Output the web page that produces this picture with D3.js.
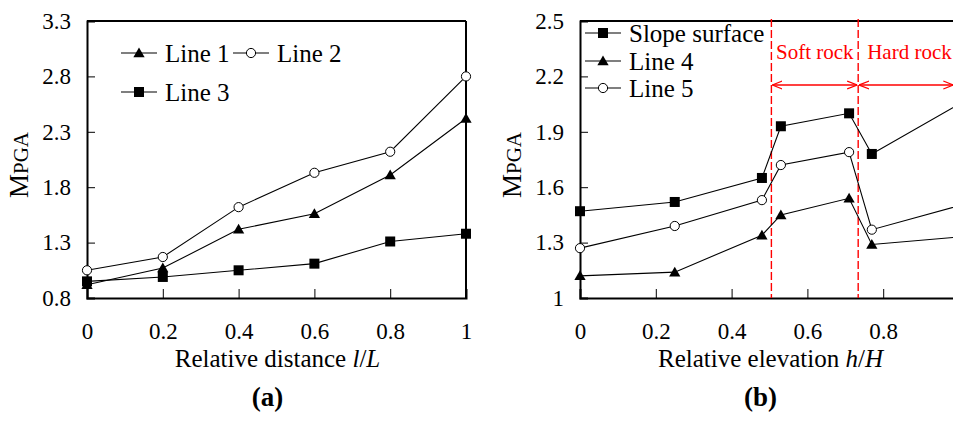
<!DOCTYPE html>
<html>
<head>
<meta charset="utf-8">
<script src="https://cdn.jsdelivr.net/npm/d3@7"></script>
<style>
  html, body { margin: 0; padding: 0; background: #fff; overflow: hidden; }
  svg { display: block; font-family: "Liberation Serif", "Times New Roman", serif; }
</style>
</head>
<body>
<svg id="chart" width="953" height="422"></svg>
<script>
// ---- data ----
const distX = [0, 0.2, 0.4, 0.6, 0.8, 1];
const line1 = [0.92, 1.07, 1.42, 1.56, 1.91, 2.42];
const line2 = [1.05, 1.17, 1.62, 1.93, 2.12, 2.80];
const line3 = [0.95, 0.99, 1.05, 1.11, 1.31, 1.38];

const elevX = [0, 0.25, 0.48, 0.53, 0.71, 0.77, 1];
const slopeSurface = [1.47, 1.52, 1.65, 1.93, 2.00, 1.78, 2.05];
const line4 = [1.12, 1.14, 1.34, 1.45, 1.54, 1.29, 1.33];
const line5 = [1.27, 1.39, 1.53, 1.72, 1.79, 1.37, 1.50];

const xTicksA = [0, 0.2, 0.4, 0.6, 0.8, 1];
const xTicksB = [0, 0.2, 0.4, 0.6, 0.8];   // the 1 falls past the picture edge
const yTicksA = [0.8, 1.3, 1.8, 2.3, 2.8, 3.3];
const yTicksB = [1, 1.3, 1.6, 1.9, 2.2, 2.5];
const rockBounds = [0.505, 0.734]; // soft rock zone, hard rock beyond

const svg = d3.select("#chart");
const FS = 23;

// arrowheads for the rock zone brackets
const defs = svg.append("defs");
["start", "end"].forEach((k) => {
  defs.append("marker")
    .attr("id", "arr-" + k)
    .attr("viewBox", "0 0 10 10")
    .attr("refX", k === "end" ? 10 : 0).attr("refY", 5)
    .attr("markerWidth", 10).attr("markerHeight", 10)
    .attr("markerUnits", "userSpaceOnUse")
    .attr("orient", "auto")
    .append("path")
    .attr("d", k === "end" ? "M0,1 L10,5 L0,9" : "M10,1 L0,5 L10,9")
    .attr("fill", "none").attr("stroke", "red").attr("stroke-width", 1.3);
});

function marker(g, shape, x, y) {
  if (shape === "circle") {
    g.append("circle").attr("cx", x).attr("cy", y).attr("r", 4.6)
      .attr("fill", "#fff").attr("stroke", "#000").attr("stroke-width", 1);
  } else if (shape === "square") {
    g.append("rect").attr("x", x - 5).attr("y", y - 5).attr("width", 10).attr("height", 10)
      .attr("fill", "#000");
  } else {
    g.append("path").attr("d", d3.symbol(d3.symbolTriangle, 55)())
      .attr("transform", `translate(${x},${y + 1})`).attr("fill", "#000");
  }
}

function panel(opt) {
  const x = d3.scaleLinear().domain([0, 1]).range([opt.left, opt.left + 379]);
  const y = d3.scaleLinear().domain(opt.yDomain).range([298, 21]);
  const g = svg.append("g");

  // frame
  g.append("line").attr("x1", x(0)).attr("x2", x(1)).attr("y1", 21).attr("y2", 21)
    .attr("stroke", "#000").attr("stroke-width", 2);
  g.append("line").attr("x1", x(1)).attr("x2", x(1)).attr("y1", 21).attr("y2", 298)
    .attr("stroke", "#000").attr("stroke-width", 2);

  const xa = g.append("g").attr("transform", "translate(0,298)")
    .call(d3.axisBottom(x).tickValues(opt.xTicks).tickSize(-9).tickPadding(25)
      .tickFormat((d) => String(d)));
  const ya = g.append("g").attr("transform", `translate(${opt.left},0)`)
    .call(d3.axisLeft(y).tickValues(opt.yTicks).tickSize(-8).tickPadding(16)
      .tickFormat((d) => String(d)));
  [xa, ya].forEach((a) => {
    a.select(".domain").attr("stroke-width", 2);
    a.selectAll(".tick line").attr("stroke-width", 1);
    a.selectAll("text").attr("font-size", FS).attr("font-family", "Liberation Serif").attr("fill", "#000");
  });

  // y title
  const yt = g.append("text")
    .attr("transform", `translate(${opt.left - 59},165) rotate(-90)`)
    .attr("text-anchor", "middle").attr("fill", "#000");
  yt.append("tspan").attr("font-size", 27).text("M");
  yt.append("tspan").attr("font-size", 21).text("PGA");

  // x title
  const xt = g.append("text").attr("x", x(0.5) + 1).attr("y", 367)
    .attr("text-anchor", "middle").attr("font-size", 25).attr("fill", "#000");
  xt.append("tspan").text(opt.xTitle);
  xt.append("tspan").attr("font-style", "italic").text(opt.xVar[0]);
  xt.append("tspan").text("/");
  xt.append("tspan").attr("font-style", "italic").text(opt.xVar[1]);

  g.append("text").attr("x", x(0.5) - 9).attr("y", 406).attr("text-anchor", "middle")
    .attr("font-size", 27).attr("font-weight", "bold").attr("fill", "#000").text(opt.tag);

  return { g, x, y };
}

function series(p, xs, ys, shape) {
  const line = d3.line().x((d, i) => p.x(xs[i])).y((d) => p.y(d));
  p.g.append("path").datum(ys).attr("d", line)
    .attr("fill", "none").attr("stroke", "#000").attr("stroke-width", 1.1);
  ys.forEach((v, i) => marker(p.g, shape, p.x(xs[i]), p.y(v)));
}

function legendItem(g, shape, x, y, label) {
  g.append("line").attr("x1", x).attr("x2", x + 36).attr("y1", y).attr("y2", y)
    .attr("stroke", "#000").attr("stroke-width", 1.1);
  marker(g, shape, x + 18, y);
  g.append("text").attr("x", x + 44).attr("y", y).attr("dy", "0.35em")
    .attr("font-size", 25).attr("fill", "#000").text(label);
}

// ---- panel (a) ----
const A = panel({ left: 87, yDomain: [0.8, 3.3], yTicks: yTicksA, xTicks: xTicksA,
  xTitle: "Relative distance ", xVar: ["l", "L"], tag: "(a)" });
series(A, distX, line3, "square");
series(A, distX, line1, "triangle");
series(A, distX, line2, "circle");
legendItem(A.g, "triangle", 121, 53, "Line 1");
legendItem(A.g, "circle", 233, 53, "Line 2");
legendItem(A.g, "square", 121, 92, "Line 3");

// ---- panel (b) ----
const B = panel({ left: 580, yDomain: [1, 2.5], yTicks: yTicksB, xTicks: xTicksB,
  xTitle: "Relative elevation ", xVar: ["h", "H"], tag: "(b)" });

rockBounds.forEach((b) => {
  B.g.append("line").attr("x1", B.x(b)).attr("x2", B.x(b)).attr("y1", 19).attr("y2", 298)
    .attr("stroke", "red").attr("stroke-width", 1.4).attr("stroke-dasharray", "8,3");
});
B.g.append("line").attr("x1", B.x(rockBounds[0]) + 1).attr("x2", B.x(rockBounds[1]) - 1)
  .attr("y1", 85).attr("y2", 85).attr("stroke", "red").attr("stroke-width", 1.3)
  .attr("marker-start", "url(#arr-start)").attr("marker-end", "url(#arr-end)");
B.g.append("line").attr("x1", B.x(rockBounds[1]) + 1).attr("x2", B.x(0.985))
  .attr("y1", 85).attr("y2", 85).attr("stroke", "red").attr("stroke-width", 1.3)
  .attr("marker-start", "url(#arr-start)").attr("marker-end", "url(#arr-end)");
B.g.append("text").attr("x", (B.x(rockBounds[0]) + B.x(rockBounds[1])) / 2).attr("y", 52)
  .attr("dy", "0.35em").attr("text-anchor", "middle").attr("font-size", 21).attr("fill", "red")
  .text("Soft rock");
B.g.append("text").attr("x", B.x(rockBounds[1]) + 9).attr("y", 52)
  .attr("dy", "0.35em").attr("font-size", 21).attr("fill", "red").text("Hard rock");

series(B, elevX, line4, "triangle");
series(B, elevX, line5, "circle");
series(B, elevX, slopeSurface, "square");
legendItem(B.g, "square", 585, 33, "Slope surface");
legendItem(B.g, "triangle", 585, 61, "Line 4");
legendItem(B.g, "circle", 585, 88, "Line 5");
</script>
</body>
</html>
